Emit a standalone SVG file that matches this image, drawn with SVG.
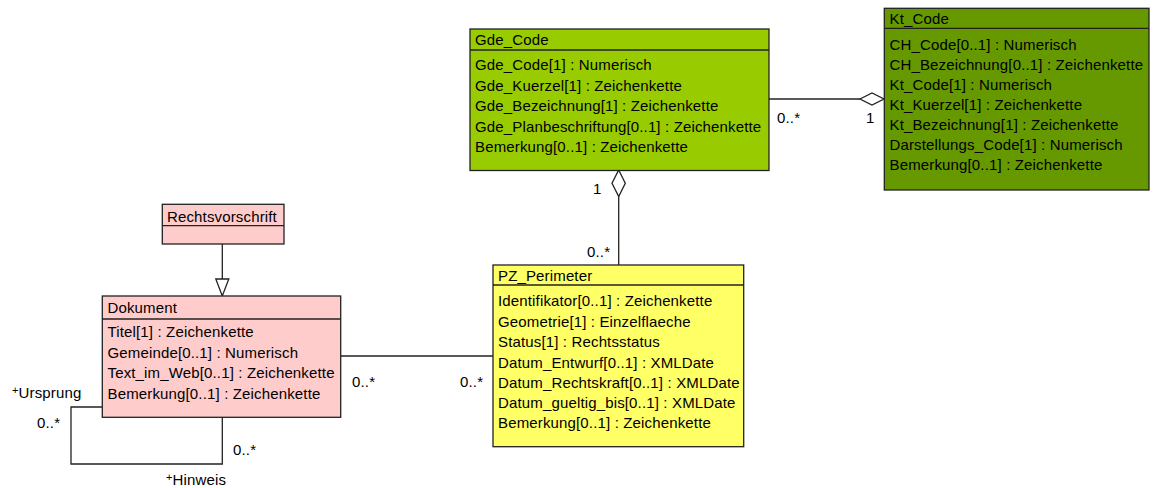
<svg xmlns="http://www.w3.org/2000/svg" width="1153" height="488" viewBox="0 0 1153 488">
<style>
text{font-family:"Liberation Sans",Arial,sans-serif;font-size:15px;letter-spacing:0.15px;fill:#000}
.sup{font-size:11px}
.box{stroke:#222;stroke-width:1.3}
.div{stroke:#222;stroke-width:1.3}
.ln{stroke:#222;stroke-width:1.3;fill:none}
.hd{fill:#fff;stroke:#222;stroke-width:1.3}
</style>
<rect width="1153" height="488" fill="#fff"/>
<g id="connectors">
<polyline class="ln" points="769,99 860,99"/>
<polygon class="hd" points="860,99 872,93 884,99 872,105"/>
<text x="777" y="123">0..*</text>
<text x="866" y="123">1</text>
<polyline class="ln" points="618.7,196.5 618.7,265"/>
<polygon class="hd" points="618.7,170 625.3,183.3 618.7,196.5 612,183.3"/>
<text x="593" y="194">1</text>
<text x="587" y="257">0..*</text>
<polyline class="ln" points="222.3,244 222.3,279"/>
<polygon class="hd" points="222.3,296 215.8,279 228.8,279"/>
<polyline class="ln" points="340.7,356 493,356"/>
<text x="352" y="387">0..*</text>
<text x="460" y="387">0..*</text>
<polyline class="ln" points="102.3,407 71,407 71,464 222.3,464 222.3,417.3"/>
<text x="12" y="398"><tspan class="sup" dy="-4">+</tspan><tspan dy="4">Ursprung</tspan></text>
<text x="37" y="428">0..*</text>
<text x="233" y="455">0..*</text>
<text x="166" y="485"><tspan class="sup" dy="-4">+</tspan><tspan dy="4">Hinweis</tspan></text>
</g>
<g id="Gde_Code">
<rect class="box" x="470" y="29" width="299" height="141.5" fill="#99CC00"/>
<line class="div" x1="470" y1="50" x2="769" y2="50"/>
<text x="475" y="45">Gde_Code</text>
<text x="475" y="70">Gde_Code[1] : Numerisch</text>
<text x="475" y="90.5">Gde_Kuerzel[1] : Zeichenkette</text>
<text x="475" y="111">Gde_Bezeichnung[1] : Zeichenkette</text>
<text x="475" y="131.5">Gde_Planbeschriftung[0..1] : Zeichenkette</text>
<text x="475" y="152">Bemerkung[0..1] : Zeichenkette</text>
</g>
<g id="Kt_Code">
<rect class="box" x="884.3" y="8.3" width="264.7" height="181.7" fill="#669900"/>
<line class="div" x1="884.3" y1="28.3" x2="1149" y2="28.3"/>
<text x="889.5" y="23.5">Kt_Code</text>
<text x="889.5" y="49.5">CH_Code[0..1] : Numerisch</text>
<text x="889.5" y="69.5">CH_Bezeichnung[0..1] : Zeichenkette</text>
<text x="889.5" y="89.5">Kt_Code[1] : Numerisch</text>
<text x="889.5" y="110">Kt_Kuerzel[1] : Zeichenkette</text>
<text x="889.5" y="130">Kt_Bezeichnung[1] : Zeichenkette</text>
<text x="889.5" y="150">Darstellungs_Code[1] : Numerisch</text>
<text x="889.5" y="170">Bemerkung[0..1] : Zeichenkette</text>
</g>
<g id="Rechtsvorschrift">
<rect class="box" x="162.3" y="204.3" width="121.7" height="39.7" fill="#FFCCCC"/>
<line class="div" x1="162.3" y1="225.7" x2="284" y2="225.7"/>
<text x="167" y="221.5">Rechtsvorschrift</text>
</g>
<g id="Dokument">
<rect class="box" x="102.3" y="296" width="238.4" height="121.3" fill="#FFCCCC"/>
<line class="div" x1="102.3" y1="319" x2="340.7" y2="319"/>
<text x="107.5" y="312.5">Dokument</text>
<text x="107.5" y="337">Titel[1] : Zeichenkette</text>
<text x="107.5" y="357.5">Gemeinde[0..1] : Numerisch</text>
<text x="107.5" y="378">Text_im_Web[0..1] : Zeichenkette</text>
<text x="107.5" y="398.5">Bemerkung[0..1] : Zeichenkette</text>
</g>
<g id="PZ_Perimeter">
<rect class="box" x="493" y="265" width="250.7" height="181.7" fill="#FFFF66"/>
<line class="div" x1="493" y1="285" x2="743.7" y2="285"/>
<text x="498" y="281">PZ_Perimeter</text>
<text x="498" y="306">Identifikator[0..1] : Zeichenkette</text>
<text x="498" y="326.5">Geometrie[1] : Einzelflaeche</text>
<text x="498" y="347">Status[1] : Rechtsstatus</text>
<text x="498" y="367.5">Datum_Entwurf[0..1] : XMLDate</text>
<text x="498" y="387.5">Datum_Rechtskraft[0..1] : XMLDate</text>
<text x="498" y="408">Datum_gueltig_bis[0..1] : XMLDate</text>
<text x="498" y="428">Bemerkung[0..1] : Zeichenkette</text>
</g>
</svg>
